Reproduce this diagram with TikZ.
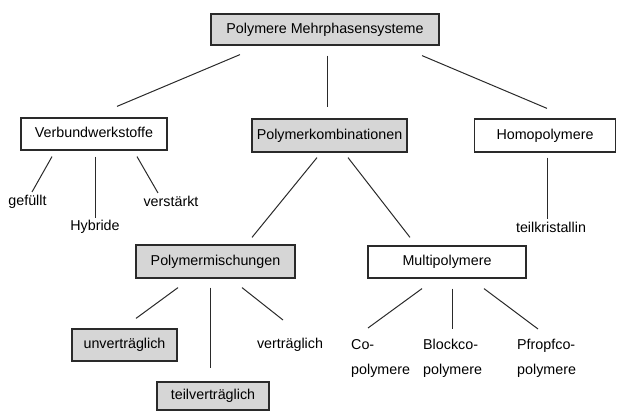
\documentclass[tikz,border=0pt]{standalone}
\usepackage{fontspec}
\setmainfont{Liberation Sans}
\definecolor{boxgray}{HTML}{D6D6D6}
\definecolor{linegray}{HTML}{2A2A2A}
\tikzset{
  every node/.style={font=\fontsize{14.3pt}{25pt}\selectfont, inner sep=0pt},
  lbl/.style={text height=10.5pt, text depth=3pt},
  graybox/.style={lbl, draw=linegray, line width=1.2pt, fill=boxgray},
  whitebox/.style={lbl, draw=linegray, line width=1.2pt, fill=white},
  twoline/.style={align=left, anchor=base west},
  conn/.style={draw=linegray, line width=1pt}
}
\begin{document}
\begin{tikzpicture}[x=1pt,y=-1pt]
  \useasboundingbox (0,0) rectangle (619,411);
  % boxes
  \node[graybox, minimum width=228pt, minimum height=31pt] (top) at (325,29.5) {Polymere Mehrphasensysteme};
  \node[whitebox, minimum width=146pt, minimum height=32pt] (verbund) at (94,134) {Verbundwerkstoffe};
  \node[graybox, minimum width=155pt, minimum height=33pt] (kombi) at (329.5,135.5) {Polymerkombinationen};
  \node[whitebox, minimum width=141pt, minimum height=33pt] (homo) at (545,135.5) {Homopolymere};
  \node[graybox, minimum width=159pt, minimum height=33pt] (mischung) at (215.5,261.5) {Polymermischungen};
  \node[whitebox, minimum width=158pt, minimum height=32pt] (multi) at (447,262) {Multipolymere};
  \node[graybox, minimum width=105pt, minimum height=32pt] (unvertr) at (124.5,345) {unverträglich};
  \node[graybox, minimum width=112pt, minimum height=28pt] (teilvertr) at (213,396) {teilverträglich};
  % plain labels
  \node[lbl] (gefuellt) at (27.5,202) {gefüllt};
  \node[lbl] (hybride) at (95,227) {Hybride};
  \node[lbl] (verstaerkt) at (171,203) {verstärkt};
  \node[lbl] (teilkrist) at (551,229) {teilkristallin};
  \node[lbl] (vertr) at (290,345) {verträglich};
  \node[twoline] (copoly) at (351,375) {Co-\\polymere};
  \node[twoline] (block) at (423,375) {Blockco-\\polymere};
  \node[twoline] (pfropf) at (517,375) {Pfropfco-\\polymere};
  % connectors
  \draw[conn] ([shift={(-85,9)}]top.south) -- ([shift={(23,-11)}]verbund.north);
  \draw[conn] ([shift={(2,10)}]top.south) -- ([shift={(-2.5,-11)}]kombi.north);
  \draw[conn] ([shift={(97,10)}]top.south) -- ([shift={(2,-10)}]homo.north);
  \draw[conn] ([shift={(-42,6)}]verbund.south) -- ([shift={(4.5,-10)}]gefuellt.center);
  \draw[conn] ([shift={(1,6)}]verbund.south) -- ([shift={(0,-9)}]hybride.center);
  \draw[conn] ([shift={(43,6)}]verbund.south) -- ([shift={(-13,-10)}]verstaerkt.center);
  \draw[conn] ([shift={(-12.5,5)}]kombi.south) -- ([shift={(36.5,-7)}]mischung.north);
  \draw[conn] ([shift={(18.5,5)}]kombi.south) -- ([shift={(-37,-8)}]multi.north);
  \draw[conn] ([shift={(2,5)}]homo.south) -- ([shift={(-4,-10)}]teilkrist.center);
  \draw[conn] ([shift={(-37.5,9)}]mischung.south) -- ([shift={(11.5,-10)}]unvertr.north);
  \draw[conn] ([shift={(-5.5,9)}]mischung.south) -- ([shift={(-3,-13)}]teilvertr.north);
  \draw[conn] ([shift={(26.5,9)}]mischung.south) -- ([shift={(-7,-25)}]vertr.center);
  \draw[conn] ([shift={(-25,10)}]multi.south) -- ([shift={(17,-47)}]copoly.base west);
  \draw[conn] ([shift={(5,10)}]multi.south) -- ([shift={(29,-46)}]block.base west);
  \draw[conn] ([shift={(37,10)}]multi.south) -- ([shift={(21,-46)}]pfropf.base west);
\end{tikzpicture}
\end{document}
